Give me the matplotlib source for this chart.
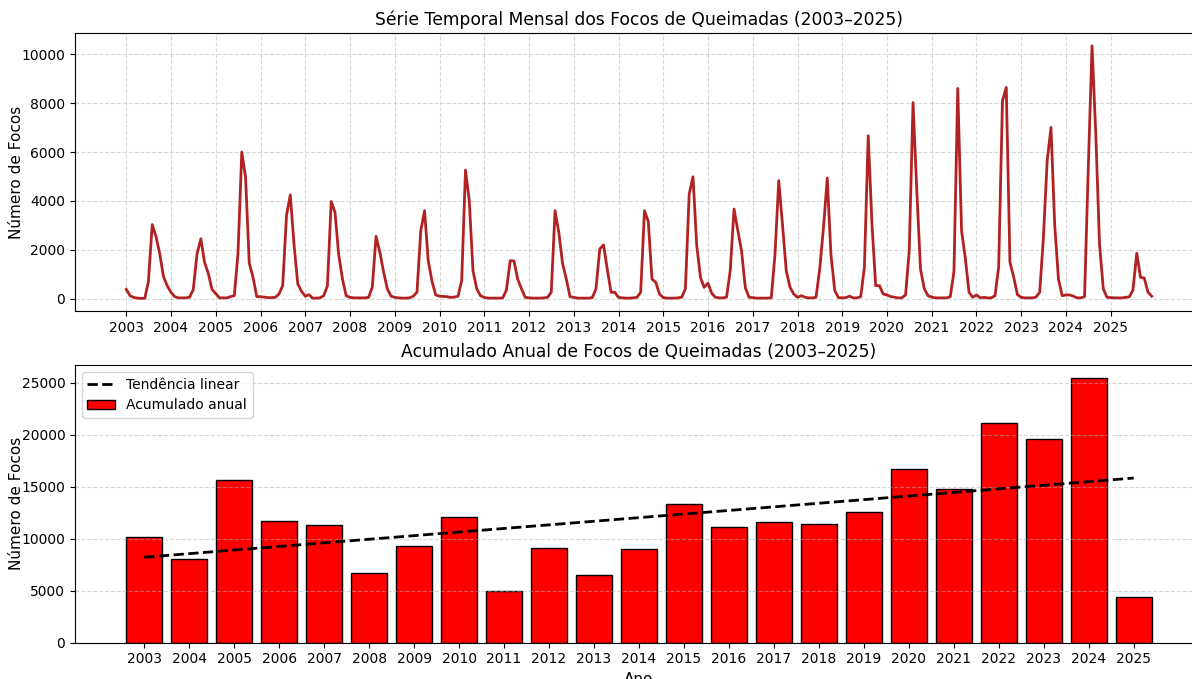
import numpy as np
import pandas as pd
import matplotlib
matplotlib.use("Agg")
import matplotlib.pyplot as plt
import matplotlib.dates as mdates

# Focos mensais (jan..dez) por ano
anos = list(range(2003, 2026))
mensal = {
    2003: [380, 120, 50, 20, 10, 10, 700, 3030, 2540, 1840, 900, 530],
    2004: [260, 80, 30, 30, 30, 60, 370, 1840, 2450, 1490, 1020, 380],
    2005: [200, 30, 30, 30, 80, 120, 1840, 6000, 4970, 1450, 870, 80],
    2006: [80, 60, 40, 40, 50, 190, 530, 3400, 4250, 2240, 600, 300],
    2007: [100, 160, 20, 20, 30, 120, 530, 3980, 3530, 1800, 800, 120],
    2008: [50, 30, 30, 30, 30, 50, 460, 2550, 1900, 1100, 400, 100],
    2009: [50, 30, 20, 20, 30, 100, 260, 2780, 3600, 1550, 700, 150],
    2010: [100, 90, 80, 50, 60, 100, 740, 5265, 4000, 1150, 400, 120],
    2011: [50, 20, 20, 20, 20, 30, 350, 1555, 1540, 800, 400, 55],
    2012: [30, 20, 20, 20, 30, 50, 260, 3600, 2700, 1450, 800, 80],
    2013: [50, 20, 20, 20, 20, 40, 400, 2030, 2200, 1210, 260, 260],
    2014: [50, 30, 20, 20, 30, 55, 260, 3600, 3160, 800, 670, 190],
    2015: [40, 20, 20, 20, 30, 60, 400, 4280, 4990, 2200, 870, 460],
    2016: [630, 220, 55, 30, 30, 60, 1150, 3670, 2780, 1960, 450, 55],
    2017: [40, 20, 20, 20, 20, 30, 1800, 4830, 3000, 1150, 460, 190],
    2018: [55, 120, 60, 30, 30, 50, 1200, 2900, 4940, 1800, 330, 40],
    2019: [30, 40, 100, 30, 30, 80, 1280, 6670, 3050, 530, 530, 190],
    2020: [150, 80, 60, 30, 30, 150, 1960, 8030, 4400, 1210, 400, 120],
    2021: [60, 30, 30, 30, 30, 80, 1100, 8607, 2780, 1690, 260, 55],
    2022: [150, 30, 50, 30, 30, 120, 1300, 8100, 8650, 1490, 870, 160],
    2023: [50, 30, 30, 30, 60, 260, 2500, 5650, 7010, 3050, 800, 120],
    2024: [150, 150, 100, 30, 30, 80, 5280, 10350, 6700, 2240, 400, 55],
    2025: [40, 30, 30, 30, 50, 70, 350, 1855, 870, 845, 260, 100],
}

# Acumulado anual (barras)
acumulado = [10170, 8080, 15610, 11680, 11290, 6700, 9263, 12083, 4968, 9071,
             6474, 8974, 13365, 11122, 11603, 11410, 12596, 16667, 14744,
             21154, 19551, 25417, 4423]

datas = pd.date_range("2003-01-01", "2025-12-01", freq="MS")
focos = np.concatenate([mensal[a] for a in anos])

fig = plt.figure(figsize=(11.92, 6.79), dpi=100)
ax1 = fig.add_axes([0.0629, 0.542, 0.9463, 0.409])
ax2 = fig.add_axes([0.0629, 0.0535, 0.9463, 0.4089])

# Série mensal
ax1.plot(datas, focos, color="#b22222", linewidth=2)
ax1.set_title("Série Temporal Mensal dos Focos de Queimadas (2003–2025)", fontsize=12.3)
ax1.set_ylabel("Número de Focos", fontsize=11, labelpad=-2)
ax1.set_xticks([pd.Timestamp(f"{a}-01-01") for a in anos])
ax1.xaxis.set_major_formatter(mdates.DateFormatter("%Y"))
ax1.grid(True, linestyle="--", alpha=0.5)

# Acumulado anual + tendência
x = np.array(anos)
y = np.array(acumulado)
coef = np.polyfit(x, y, 1)
ax2.bar(x, y, color="red", edgecolor="black", label="Acumulado anual")
ax2.plot(x, np.polyval(coef, x), "k--", linewidth=2, label="Tendência linear")
ax2.set_title("Acumulado Anual de Focos de Queimadas (2003–2025)", fontsize=12.3)
ax2.set_xlabel("Ano", fontsize=11)
ax2.set_ylabel("Número de Focos", fontsize=11, labelpad=-2)
ax2.set_xticks(x)
ax2.legend(loc="upper left")
ax2.grid(True, axis="y", linestyle="--", alpha=0.5)

fig.savefig("out.png", dpi=100)
